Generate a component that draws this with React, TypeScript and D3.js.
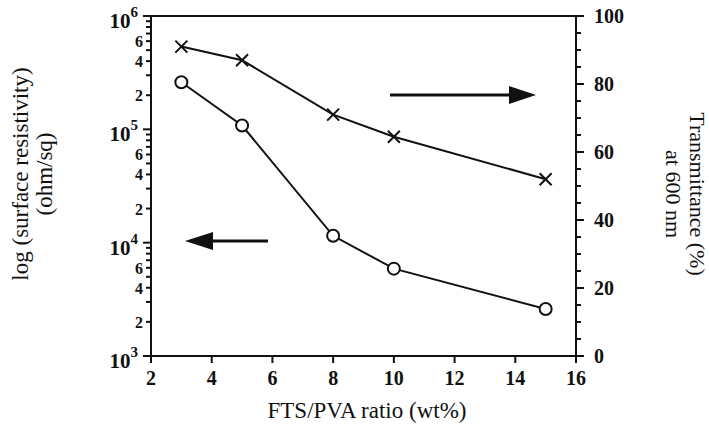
import React, { useEffect, useRef } from 'react';
import * as d3 from 'd3';

// FTS/PVA ratio (wt%)
const ratios = [3, 5, 8, 10, 15];
// surface resistivity (ohm/sq), left log axis, circles
const resistivity = [2.6e5, 1.08e5, 1.15e4, 5.9e3, 2.6e3];
// transmittance at 600 nm (%), right axis, crosses
const transmittance = [91, 87, 71, 64.5, 52];

const xTicks = [2, 4, 6, 8, 10, 12, 14, 16];
const rightTicks = [0, 20, 40, 60, 80, 100];
const decades = [3, 4, 5, 6];
const minorLabels = [2, 4, 6];

const App = () => {
  const svgRef = useRef<SVGSVGElement | null>(null);

  useEffect(() => {
    const width = 709;
    const height = 432;
    const left = 151;
    const right = 576;
    const top = 16;
    const bottom = 356;
    const font = '"Liberation Serif", "Times New Roman", serif';

    const svg = d3.select(svgRef.current).attr('width', width).attr('height', height);
    svg.selectAll('*').remove();

    const x = d3.scaleLinear().domain([2, 16]).range([left, right]);
    const yLog = d3.scaleLog().domain([1e3, 1e6]).range([bottom, top]);
    const yLin = d3.scaleLinear().domain([0, 100]).range([bottom, top]);

    const g = svg.append('g').attr('stroke', '#111').attr('fill', 'none').attr('stroke-width', 2);

    // frame
    g.append('rect')
      .attr('x', left)
      .attr('y', top)
      .attr('width', right - left)
      .attr('height', bottom - top);

    // left log ticks
    decades.slice(0, -1).forEach((d) => {
      for (let m = 2; m <= 9; m++) {
        const yy = yLog(m * Math.pow(10, d));
        g.append('line').attr('x1', left - 5).attr('x2', left).attr('y1', yy).attr('y2', yy);
      }
    });
    decades.forEach((d) => {
      const yy = yLog(Math.pow(10, d));
      g.append('line').attr('x1', left - 8).attr('x2', left).attr('y1', yy).attr('y2', yy);
      const t = svg.append('text')
        .attr('x', left - 13)
        .attr('y', yy + 12)
        .attr('text-anchor', 'end')
        .attr('font-family', font)
        .attr('font-size', 21)
        .attr('font-weight', 'bold')
        .attr('fill', '#111');
      t.append('tspan').text('10');
      t.append('tspan').attr('dy', -11).attr('font-size', 15).text(String(d));
      if (d < 6) {
        minorLabels.forEach((m) => {
          svg.append('text')
            .attr('x', left - 8)
            .attr('y', yLog(m * Math.pow(10, d)) + 6)
            .attr('text-anchor', 'end')
            .attr('font-family', font)
            .attr('font-size', 16)
            .attr('font-weight', 'bold')
            .attr('fill', '#111')
            .text(String(m));
        });
      }
    });

    // right linear ticks
    d3.range(0, 101, 5).forEach((v) => {
      const major = v % 20 === 0;
      g.append('line')
        .attr('x1', right)
        .attr('x2', right + (major ? 8 : 5))
        .attr('y1', yLin(v))
        .attr('y2', yLin(v));
    });
    rightTicks.forEach((v) => {
      svg.append('text')
        .attr('x', right + 18)
        .attr('y', yLin(v) + 7)
        .attr('font-family', font)
        .attr('font-size', 20)
        .attr('font-weight', 'bold')
        .attr('fill', '#111')
        .text(String(v));
    });

    // bottom ticks
    xTicks.forEach((v) => {
      g.append('line').attr('x1', x(v)).attr('x2', x(v)).attr('y1', bottom).attr('y2', bottom + 7);
      svg.append('text')
        .attr('x', x(v))
        .attr('y', bottom + 29)
        .attr('text-anchor', 'middle')
        .attr('font-family', font)
        .attr('font-size', 20)
        .attr('font-weight', 'bold')
        .attr('fill', '#111')
        .text(String(v));
    });

    // resistivity line with circles
    const lineR = d3.line<number>().x((d, i) => x(ratios[i])).y((d) => yLog(d));
    g.append('path').attr('d', lineR(resistivity));
    g.selectAll('circle.r')
      .data(resistivity)
      .enter()
      .append('circle')
      .attr('class', 'r')
      .attr('cx', (d, i) => x(ratios[i]))
      .attr('cy', (d) => yLog(d))
      .attr('r', 6)
      .attr('fill', '#fff');

    // transmittance line with crosses
    const lineT = d3.line<number>().x((d, i) => x(ratios[i])).y((d) => yLin(d));
    g.append('path').attr('d', lineT(transmittance));
    transmittance.forEach((v, i) => {
      const cx = x(ratios[i]);
      const cy = yLin(v);
      const s = 6;
      g.append('path').attr('d', `M${cx - s},${cy - s}L${cx + s},${cy + s}M${cx - s},${cy + s}L${cx + s},${cy - s}`);
    });

    // arrows
    const yArrowL = 241;
    g.append('line').attr('x1', 268).attr('x2', 205).attr('y1', yArrowL).attr('y2', yArrowL).attr('stroke-width', 3);
    svg.append('path')
      .attr('d', `M185,${yArrowL}L213,${yArrowL - 9}L213,${yArrowL + 9}Z`)
      .attr('fill', '#111');
    const yArrowR = 95;
    g.append('line').attr('x1', 390).attr('x2', 515).attr('y1', yArrowR).attr('y2', yArrowR).attr('stroke-width', 3);
    svg.append('path')
      .attr('d', `M536,${yArrowR}L509,${yArrowR - 9}L509,${yArrowR + 9}Z`)
      .attr('fill', '#111');

    // axis titles
    svg.append('text')
      .attr('x', 367)
      .attr('y', 418)
      .attr('text-anchor', 'middle')
      .attr('font-family', font)
      .attr('font-size', 23)
      .attr('fill', '#111')
      .text('FTS/PVA ratio (wt%)');

    const lt = svg.append('text')
      .attr('transform', 'translate(0,174) rotate(-90)')
      .attr('text-anchor', 'middle')
      .attr('font-family', font)
      .attr('font-size', 23)
      .attr('fill', '#111');
    lt.append('tspan').attr('x', 0).attr('y', 28).text('log (surface resistivity)');
    lt.append('tspan').attr('x', 0).attr('y', 52).text('(ohm/sq)');

    const rt = svg.append('text')
      .attr('transform', 'translate(709,194) rotate(90)')
      .attr('text-anchor', 'middle')
      .attr('font-family', font)
      .attr('font-size', 22)
      .attr('fill', '#111');
    rt.append('tspan').attr('x', 0).attr('y', 19).text('Transmittance (%)');
    rt.append('tspan').attr('x', 0).attr('y', 43).text('at 600 nm');
  }, []);

  return (
    <div style={{ position: 'absolute', left: 0, top: 0 }}>
      <svg ref={svgRef}></svg>
    </div>
  );
};

export default App;
